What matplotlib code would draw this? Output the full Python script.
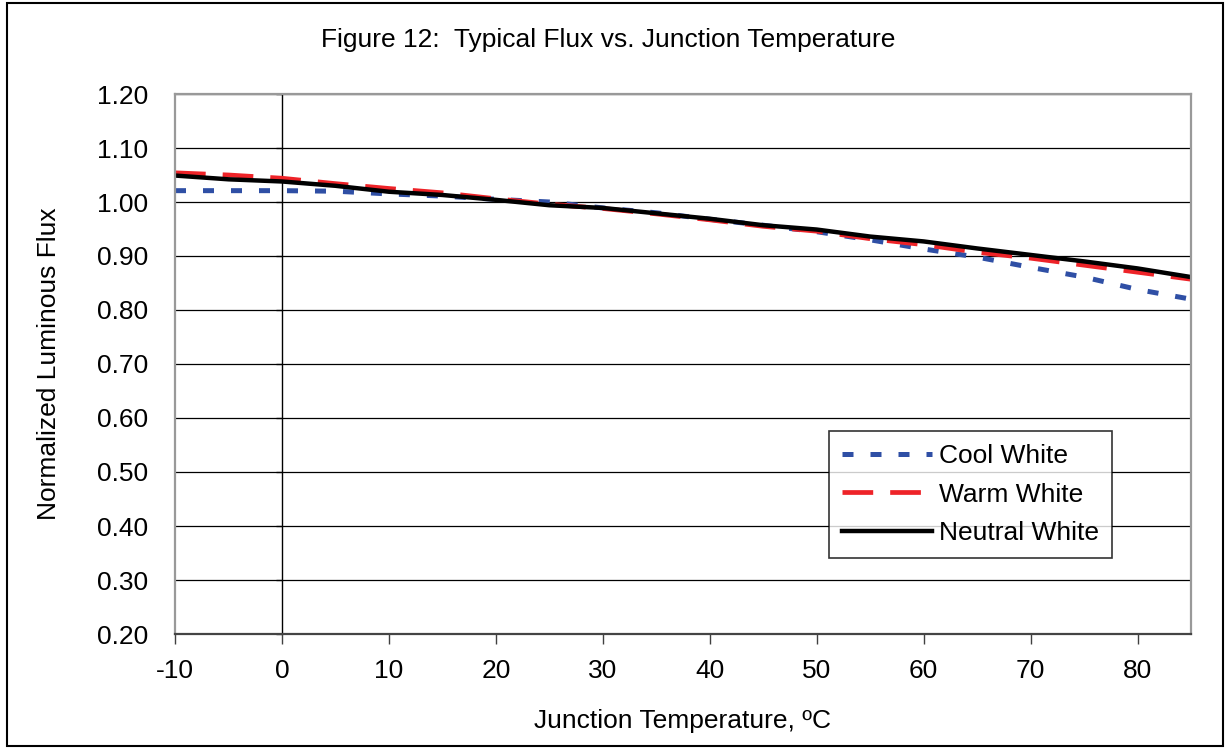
import matplotlib
matplotlib.use("Agg")
import matplotlib.pyplot as plt
from matplotlib.patches import Rectangle

plt.rcParams['font.family'] = ['Liberation Sans', 'DejaVu Sans']
plt.rcParams['axes.unicode_minus'] = False

# junction temperature (deg C)
temps = [-10, -5, 0, 5, 10, 15, 20, 25, 30, 35, 40, 45, 50, 55, 60, 65, 70, 75, 80, 85]

# normalized luminous flux
cool_white = [1.021, 1.021, 1.021, 1.020, 1.015, 1.011, 1.005, 1.000, 0.989, 0.980,
              0.968, 0.957, 0.945, 0.930, 0.913, 0.898, 0.879, 0.861, 0.838, 0.820]
warm_white = [1.054, 1.050, 1.044, 1.034, 1.025, 1.017, 1.006, 0.996, 0.988, 0.978,
              0.967, 0.955, 0.946, 0.932, 0.921, 0.907, 0.896, 0.883, 0.870, 0.857]
neutral_white = [1.049, 1.042, 1.038, 1.030, 1.019, 1.013, 1.004, 0.994, 0.989, 0.979,
                 0.969, 0.957, 0.949, 0.936, 0.927, 0.914, 0.902, 0.890, 0.877, 0.861]

xticks = [-10, 0, 10, 20, 30, 40, 50, 60, 70, 80]
yticks = [0.2, 0.3, 0.4, 0.5, 0.6, 0.7, 0.8, 0.9, 1.0, 1.1, 1.2]

fs = 19
W, H = 1225, 748
fig = plt.figure(figsize=(W / 100, H / 100), dpi=100)
ax = fig.add_axes([175 / W, 1 - 634 / H, (1191 - 175) / W, (634 - 94) / H])

ax.plot(temps, cool_white, color='#2f4fa5', lw=3.6, dashes=(2.2, 3.4), label='Cool White')
ax.plot(temps, warm_white, color='#ee2328', lw=3.4, dashes=(6.5, 3.6), label='Warm White')
ax.plot(temps, neutral_white, color='black', lw=3.2, label='Neutral White')

ax.set_xlim(-10, 85)
ax.set_ylim(0.2, 1.2)
ax.set_xticks(xticks)
ax.set_yticks(yticks)
ax.set_yticklabels(['%.2f' % v for v in yticks])
ax.tick_params(axis='x', direction='out', length=7, width=1, color='#404040', labelsize=fs, pad=11)
ax.tick_params(axis='y', length=0, labelsize=fs, pad=19)
ax.yaxis.grid(True, color='black', lw=0.9)
ax.set_axisbelow(True)

for s in ['left', 'top', 'right']:
    ax.spines[s].set_color('#999999')
    ax.spines[s].set_linewidth(1.6)
ax.spines['bottom'].set_color('#444444')
ax.spines['bottom'].set_linewidth(1.6)

# value axis crossing at 0 deg C
yax = ax.secondary_yaxis((0 + 10) / 95)
yax.set_yticks(yticks)
yax.set_yticklabels([])
yax.spines['left'].set_color('black')
yax.spines['left'].set_linewidth(1)
yax.tick_params(direction='out', length=4, width=1, color='#333333')

ax.set_xlabel('Junction Temperature, \u00baC', fontsize=fs, labelpad=19)
ax.set_ylabel('Normalized Luminous Flux', fontsize=fs, labelpad=26)

leg = ax.legend(loc='upper left', bbox_to_anchor=((829 - 175) / 1016, (634 - 431) / 540),
                fontsize=fs, frameon=True, fancybox=False, handlelength=3.4,
                handletextpad=0.27, borderpad=0.5, labelspacing=0.55, borderaxespad=0)
leg.get_frame().set_edgecolor('black')
leg.get_frame().set_linewidth(1.2)

fig.text(608 / W, 1 - 40 / H, 'Figure 12:  Typical Flux vs. Junction Temperature',
         ha='center', va='center', fontsize=fs)

fig.patches.append(Rectangle((7 / W, 2 / H), (W - 9) / W, (H - 5) / H, transform=fig.transFigure,
                             fill=False, edgecolor='black', lw=1.5))

fig.savefig('out.png', dpi=100)
